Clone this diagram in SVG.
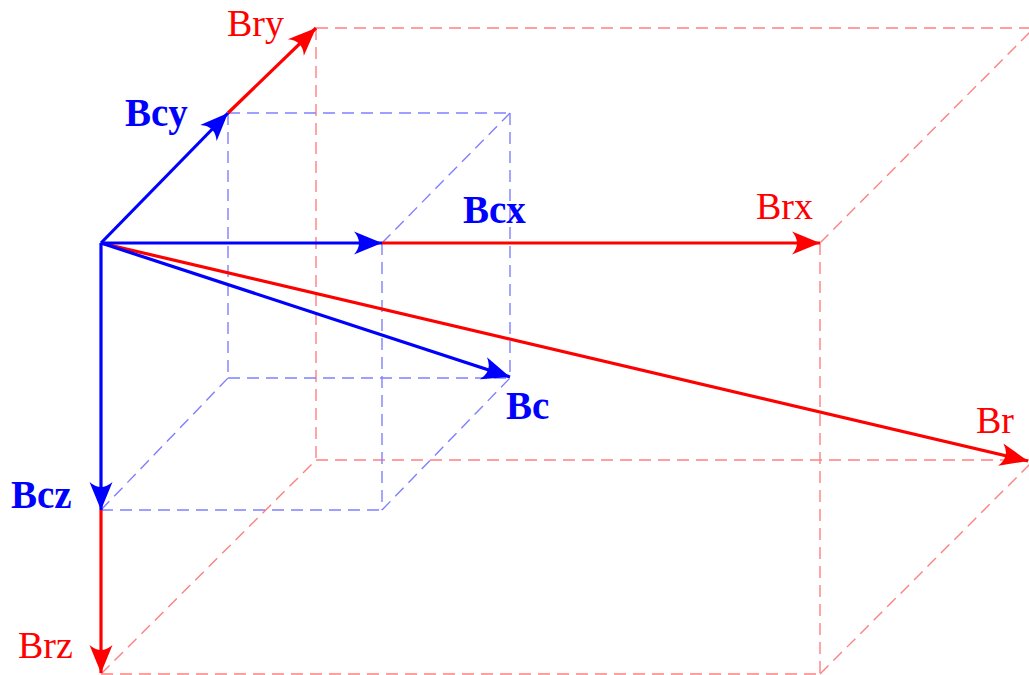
<svg xmlns="http://www.w3.org/2000/svg" width="1029" height="675" viewBox="0 0 1029 675">
  <style>
    .dr { stroke: #ff8080; stroke-width: 1.4; stroke-dasharray: 12 7; fill: none; }
    .db { stroke: #8080ff; stroke-width: 1.4; stroke-dasharray: 12 7; fill: none; }
    .ar { stroke: #ff0000; stroke-width: 3.2; fill: none; marker-end: url(#hr); }
    .ab { stroke: #0000ff; stroke-width: 3.2; fill: none; marker-end: url(#hb); }
    .tr { font-family: "Liberation Serif", "Times New Roman", serif; font-size: 38px; fill: #ff0000; }
    .tb { font-family: "Liberation Serif", "Times New Roman", serif; font-size: 39px; font-weight: bold; fill: #0000ff; }
  </style>
  <defs>
    <marker id="hr" markerUnits="userSpaceOnUse" viewBox="-30 -13 32 26" refX="0" refY="0" markerWidth="32" markerHeight="26" orient="auto" overflow="visible">
      <path d="M0,0 L-28,-11.5 Q-18,0 -28,11.5 Z" fill="#ff0000"/>
    </marker>
    <marker id="hb" markerUnits="userSpaceOnUse" viewBox="-30 -13 32 26" refX="0" refY="0" markerWidth="32" markerHeight="26" orient="auto" overflow="visible">
      <path d="M0,0 L-28,-11.5 Q-18,0 -28,11.5 Z" fill="#0000ff"/>
    </marker>
  </defs>

  <g id="red-box">
    <line class="dr" x1="316" y1="28" x2="1040" y2="28"/>
    <line class="dr" x1="316" y1="28" x2="316" y2="460"/>
    <line class="dr" x1="316" y1="460" x2="1040" y2="460"/>
    <line class="dr" x1="820" y1="243" x2="1034" y2="28"/>
    <line class="dr" x1="820" y1="243" x2="820" y2="674"/>
    <line class="dr" x1="101" y1="674" x2="820" y2="674"/>
    <line class="dr" x1="101" y1="674" x2="316" y2="460"/>
    <line class="dr" x1="820" y1="674" x2="1034" y2="460"/>
  </g>

  <g id="blue-box">
    <line class="db" x1="228" y1="113" x2="510" y2="113"/>
    <line class="db" x1="228" y1="113" x2="228" y2="378"/>
    <line class="db" x1="228" y1="378" x2="510" y2="378"/>
    <line class="db" x1="510" y1="113" x2="510" y2="378"/>
    <line class="db" x1="382" y1="243" x2="510" y2="113"/>
    <line class="db" x1="382" y1="243" x2="382" y2="510"/>
    <line class="db" x1="101" y1="510" x2="382" y2="510"/>
    <line class="db" x1="101" y1="510" x2="228" y2="378"/>
    <line class="db" x1="382" y1="510" x2="510" y2="378"/>
  </g>

  <g id="connectors">
    <line class="ar" x1="228" y1="113" x2="316" y2="28"/>
    <line class="ar" x1="382" y1="243" x2="820" y2="243"/>
    <line class="ar" x1="101" y1="510" x2="101" y2="673"/>
    <line class="ar" x1="101" y1="243" x2="1028" y2="461"/>
    <line class="ab" x1="101" y1="243" x2="228" y2="113"/>
    <line class="ab" x1="101" y1="243" x2="382" y2="243"/>
    <line class="ab" x1="101" y1="243" x2="101" y2="510"/>
    <line class="ab" x1="101" y1="243" x2="510" y2="377"/>
  </g>

  <g id="labels">
    <g id="Bry"><text class="tr" x="227" y="36">Bry</text></g>
    <g id="Bcy"><text class="tb" x="125" y="126">Bcy</text></g>
    <g id="Bcx"><text class="tb" x="463" y="223">Bcx</text></g>
    <g id="Brx"><text class="tr" x="756" y="219">Brx</text></g>
    <g id="Bc"><text class="tb" x="506" y="419">Bc</text></g>
    <g id="Br"><text class="tr" x="976" y="433">Br</text></g>
    <g id="Bcz"><text class="tb" x="11" y="508">Bcz</text></g>
    <g id="Brz"><text class="tr" x="18" y="658">Brz</text></g>
  </g>
</svg>
